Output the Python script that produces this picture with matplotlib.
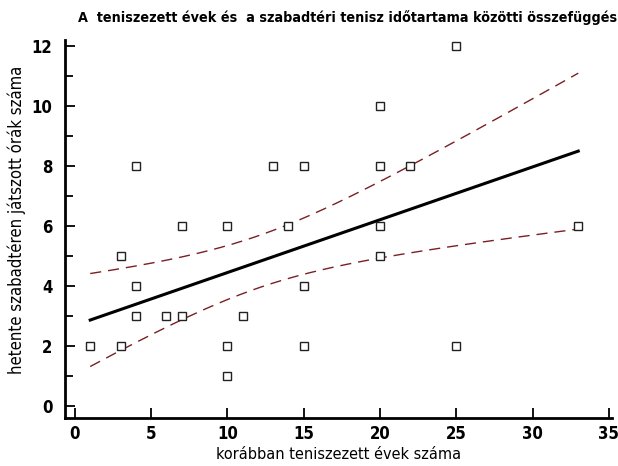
import numpy as np
import matplotlib.pyplot as plt
from matplotlib.ticker import MultipleLocator

# korábban teniszezett évek / heti szabadtéri órák
years = [1, 3, 3, 4, 4, 4, 6, 7, 7, 10, 10, 10, 11, 13, 14, 15, 15, 15,
         20, 20, 20, 20, 22, 25, 25, 33]
hours = [2, 2, 5, 8, 4, 3, 3, 3, 6, 6, 2, 1, 3, 8, 6, 8, 4, 2,
         10, 8, 6, 5, 8, 12, 2, 6]

# regression line and confidence band
fit_intercept = 2.69
fit_slope = 0.176
band_min = 0.87      # narrowest half-width
band_center = 12.0   # where it is narrowest
band_growth = 0.1166

plt.rcParams['font.family'] = ['DejaVu Sans']
plt.rcParams['font.stretch'] = 'condensed'
plt.rcParams['font.weight'] = 'bold'

fig = plt.figure(figsize=(6.18, 4.66), dpi=100)
ax = fig.add_axes([0.105, 0.103, 0.885, 0.811])

xs = np.linspace(min(years), max(years), 200)
fit = fit_intercept + fit_slope * xs
hw = np.sqrt(band_min**2 + (band_growth * (xs - band_center))**2)

ax.plot(xs, fit + hw, color='#7a1f24', lw=1.0, dashes=(8, 5))
ax.plot(xs, fit - hw, color='#7a1f24', lw=1.0, dashes=(8, 5))
ax.plot(xs, fit, color='black', lw=2.2)
ax.plot(years, hours, ls='none', marker='s', ms=5.5, mfc='white',
        mec='#222222', mew=1.0)

ax.set_xlim(-0.66, 35.2)
ax.set_ylim(-0.4, 12.2)
ax.xaxis.set_major_locator(MultipleLocator(5))
ax.yaxis.set_major_locator(MultipleLocator(2))
ax.yaxis.set_minor_locator(MultipleLocator(1))

for s in ['top', 'right']:
    ax.spines[s].set_visible(False)
for s in ['left', 'bottom']:
    ax.spines[s].set_linewidth(2)

ax.tick_params(which='both', direction='in', width=1.3, labelsize=12)
ax.tick_params(which='major', length=7)
ax.tick_params(which='minor', length=6)
ax.tick_params(axis='x', pad=5)
ax.tick_params(axis='y', pad=9)

ax.set_xlabel('korábban teniszezett évek száma', fontsize=11.6, labelpad=3)
ax.set_ylabel('hetente szabadtéren játszott órák száma', fontsize=12)
ax.yaxis.set_label_coords(-0.072, 0.524)
fig.text(78 / 618, 1 - 18 / 466, 'A  teniszezett évek és  a szabadtéri tenisz időtartama közötti összefüggés',
         fontsize=10.3, ha='left', va='center')

fig.savefig('out.png', dpi=100)
